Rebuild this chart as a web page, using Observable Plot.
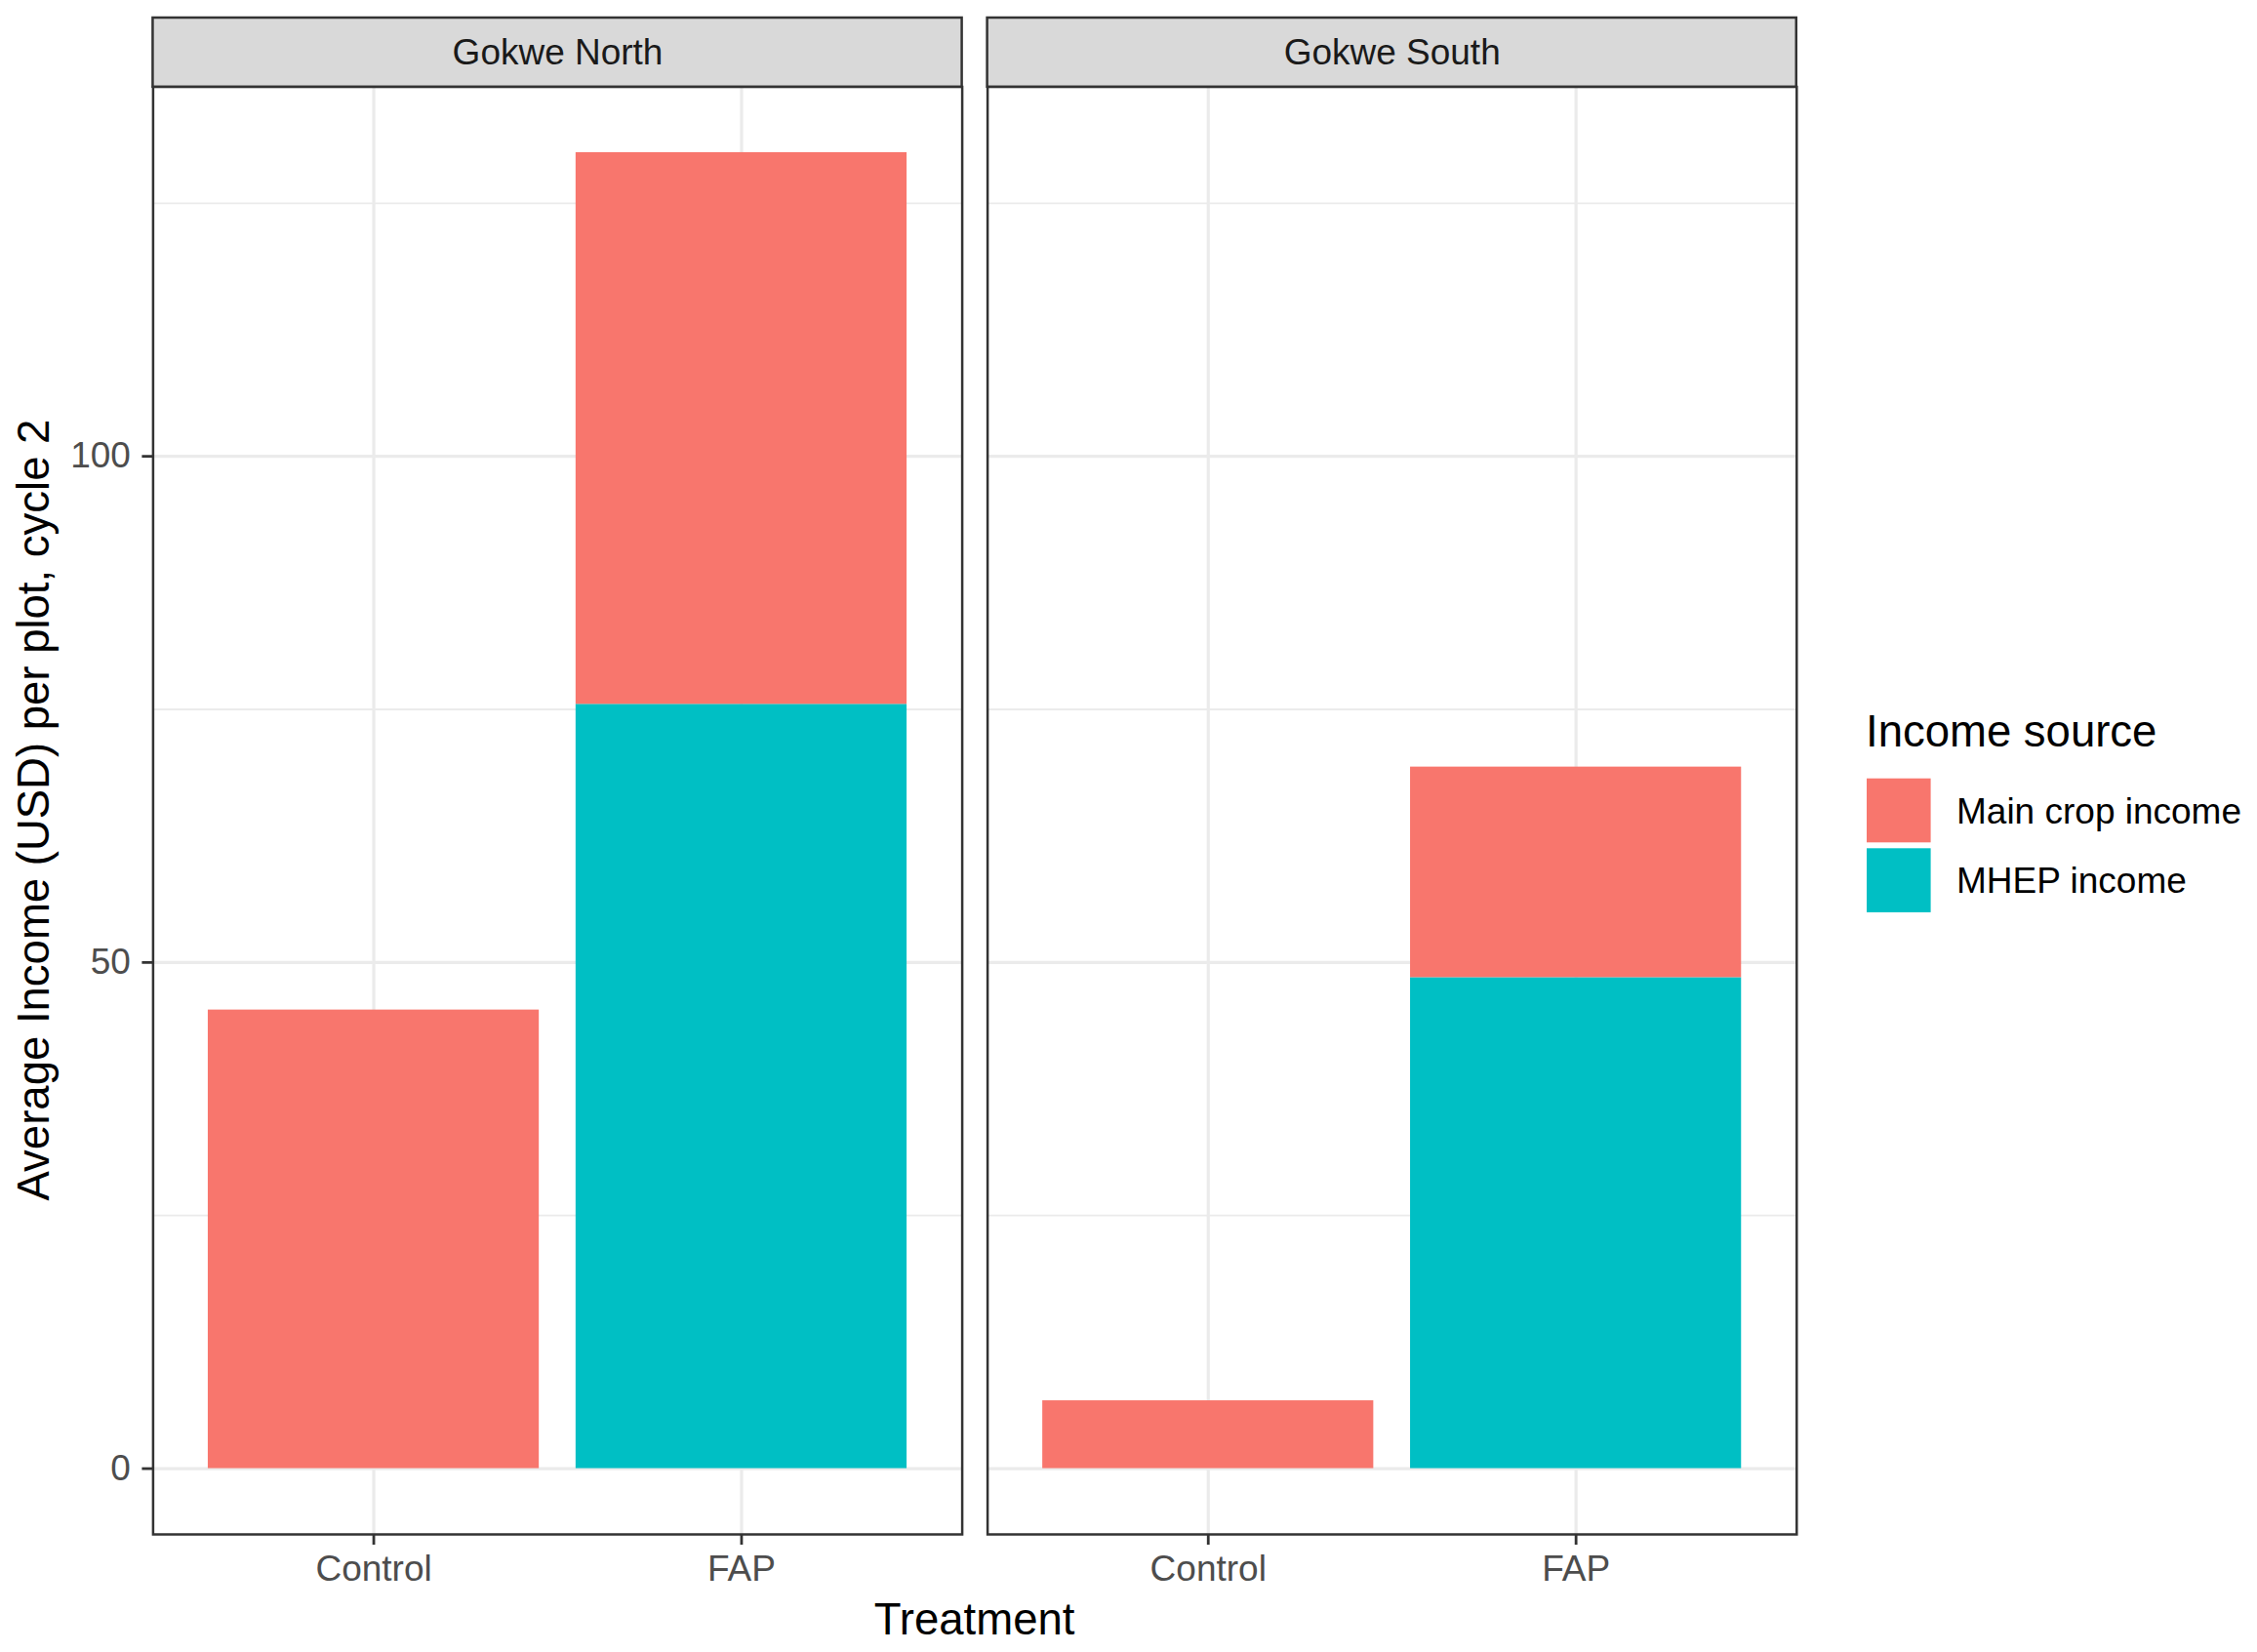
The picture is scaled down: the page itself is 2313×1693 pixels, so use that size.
<!DOCTYPE html>
<html>
<head>
<meta charset="utf-8">
<script src="https://cdn.jsdelivr.net/npm/d3@7"></script>
<script src="https://cdn.jsdelivr.net/npm/@observablehq/plot@0.6"></script>
<style>
  html, body { margin: 0; padding: 0; background: #ffffff; }
  #wrap { position: relative; width: 2313px; height: 1693px; background: #ffffff; font-family: "Liberation Sans", Arial, sans-serif; }
  #wrap svg { position: absolute; left: 0; overflow: visible; max-width: none; }
</style>
</head>
<body>
<div id="wrap"></div>
<script>
// ---- data ----
const districts = ["Gokwe North", "Gokwe South"];
const treatments = ["Control", "FAP"];
const sources = ["Main crop income", "MHEP income"];
const sourceColors = ["#F8766D", "#00BFC4"];
// values per district x treatment: [GN-Control, GN-FAP, GS-Control, GS-FAP]
const mainCropIncome = [45.3, 54.5, 6.7, 20.8];
const mhepIncome = [0, 75.5, 0, 48.5];
const yMajorTicks = [0, 50, 100];
const yMinorTicks = [25, 75, 125];
const xTitle = "Treatment";
const yTitle = "Average Income (USD) per plot, cycle 2";
const legendTitle = "Income source";

// build long table (MHEP first so it is stacked at the bottom)
const rows = [];
districts.forEach((d, i) => {
  treatments.forEach((t, j) => {
    const k = i * treatments.length + j;
    if (mhepIncome[k] > 0) rows.push({district: d, treatment: t, source: sources[1], value: mhepIncome[k]});
    if (mainCropIncome[k] > 0) rows.push({district: d, treatment: t, source: sources[0], value: mainCropIncome[k]});
  });
});
const totals = districts.flatMap((d, i) => treatments.map((t, j) => mainCropIncome[i * 2 + j] + mhepIncome[i * 2 + j]));
const yMax = d3.max(totals);
const yExp = 0.05 * yMax;

const W = 1860, H = 1693;
const mL = 156.4, mR = 19.2, mT = 88.5, mB = 121;
const fxInner = 0.0304;
const fontFam = "Liberation Sans, Arial, sans-serif";

const wrap = document.getElementById("wrap");

const chart = Plot.plot({
  width: W,
  height: H,
  marginLeft: mL,
  marginRight: mR,
  marginTop: mT,
  marginBottom: mB,
  style: {fontFamily: fontFam, fontSize: "37px", background: "transparent", overflow: "visible"},
  fx: {domain: districts, paddingInner: fxInner, paddingOuter: 0, round: false, axis: null, label: null},
  x: {domain: treatments, paddingInner: 0.1, paddingOuter: 0.15, round: false, label: null},
  y: {domain: [-yExp, yMax + yExp], nice: false, label: null},
  color: {domain: sources, range: sourceColors},
  marks: [
    Plot.gridY(yMinorTicks, {stroke: "#EBEBEB", strokeOpacity: 1, strokeWidth: 1.8}),
    Plot.gridY(yMajorTicks, {stroke: "#EBEBEB", strokeOpacity: 1, strokeWidth: 3.2}),
    Plot.gridX({stroke: "#EBEBEB", strokeOpacity: 1, strokeWidth: 3.2}),
    Plot.barY(rows, Plot.stackY({fx: "district", x: "treatment", y: "value", fill: "source", inset: 0})),
    Plot.frame({stroke: "#333333", strokeWidth: 2.5}),
    Plot.axisY(yMajorTicks, {anchor: "left", tickSize: 11, tickPadding: 12, strokeWidth: 2.8, stroke: "#333333", fill: "#4D4D4D", fontSize: 37, label: null}),
    Plot.axisX({anchor: "bottom", tickSize: 11, tickPadding: 10, strokeWidth: 2.8, stroke: "#333333", fill: "#4D4D4D", fontSize: 37, label: null})
  ]
});
chart.style.top = "0px";
wrap.appendChild(chart);

// facet strips, drawn with a band scale matching the facets
const strip = Plot.plot({
  width: W,
  height: 70.8,
  marginLeft: mL,
  marginRight: mR,
  marginTop: 0,
  marginBottom: 0,
  style: {fontFamily: fontFam, fontSize: "37px", background: "transparent", overflow: "visible"},
  x: {type: "band", domain: districts, paddingInner: fxInner, paddingOuter: 0, round: false, axis: null},
  marks: [
    Plot.cell(districts, {x: d => d, fill: "#D9D9D9", stroke: "#333333", strokeWidth: 2.5}),
    Plot.text(districts, {x: d => d, text: d => d, fill: "#1A1A1A", fontSize: 37})
  ]
});
strip.style.top = "17.7px";
wrap.appendChild(strip);

// titles and legend
const ov = d3.select(wrap).append("svg")
  .attr("width", 2313).attr("height", 1693)
  .style("top", "0px")
  .attr("font-family", fontFam);

ov.append("text")
  .attr("x", (mL + (W - mR)) / 2).attr("y", 1675)
  .attr("text-anchor", "middle").attr("font-size", 45.5).attr("fill", "#000")
  .text(xTitle);

ov.append("text")
  .attr("transform", "translate(50,830) rotate(-90)")
  .attr("text-anchor", "middle").attr("font-size", 45.5).attr("fill", "#000")
  .text(yTitle);

const lg = ov.append("g").attr("transform", "translate(1912,0)");
lg.append("text").attr("x", 0).attr("y", 765).attr("font-size", 45.5).attr("fill", "#000").text(legendTitle);
sources.forEach((s, i) => {
  const y0 = 797.7 + i * 71.6;
  lg.append("rect").attr("x", 1).attr("y", y0).attr("width", 65.6).attr("height", 65.6).attr("fill", sourceColors[i]);
  lg.append("text").attr("x", 93).attr("y", y0 + 32.8 + 13).attr("font-size", 37).attr("fill", "#000").text(s);
});
</script>
</body>
</html>
